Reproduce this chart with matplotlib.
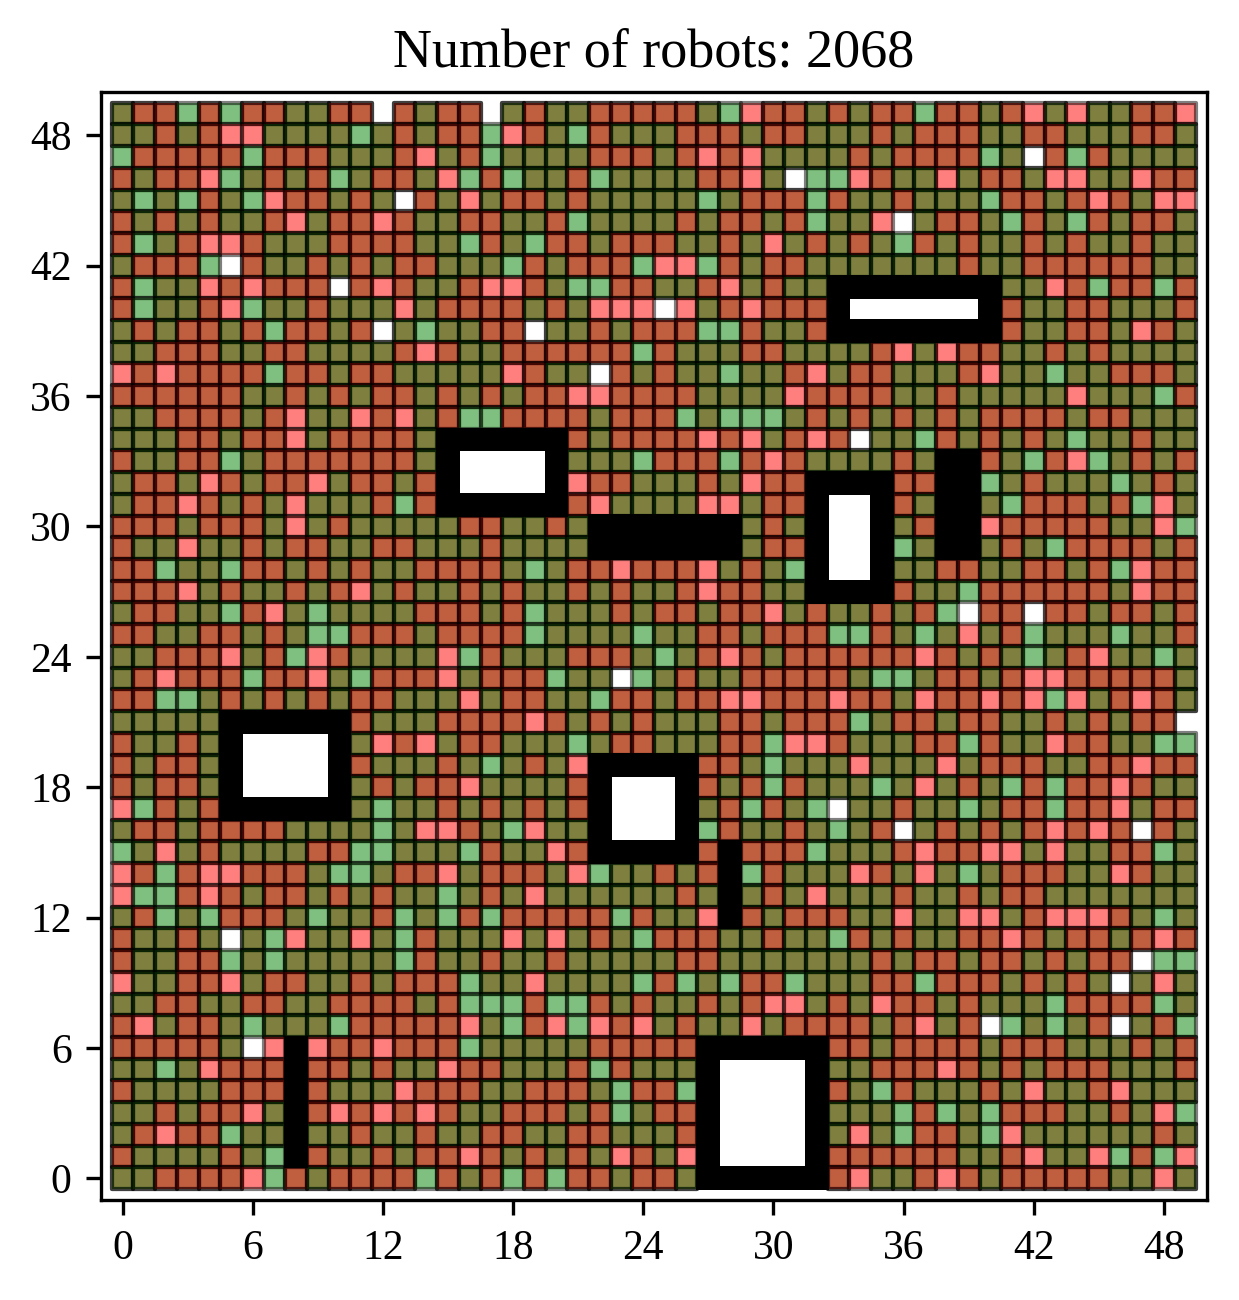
import matplotlib
matplotlib.use("Agg")
import matplotlib.pyplot as plt
from matplotlib.patches import Rectangle
from matplotlib.collections import PatchCollection

# ---------------- data ----------------
title_text = "Number of robots: 2068"
tick_values = [0, 6, 12, 18, 24, 30, 36, 42, 48]
n_cols = 50
n_rows = 50

# grid rows from top (y = 49) to bottom (y = 0)
# G = olive (red under green), R = brick (green under red), r = red only,
# g = green only, . = empty, # = obstacle
grid_rows = [
    "GRRgRgRRGGRR.RGRR" ".GRGGRRRRRGgrRRGR" "GRRgRRGRrGrGGRRr",
    "GGRGRrrGGGGgGRGRR" "grRGgRGGGRRRGRRGG" "GRGRRRGGRRGGGRRG",
    "gRRRRRgRRRGGGRrGR" "gGGGGRRRGRrRrGGGG" "RGRRRRgG.RgRGGGG",
    "RGRRrgGRGRgGRRGrg" "RgGGRgGGGGRRrG.gg" "rRGGrGRRGrrGGrRR",
    "GgGgRGgrRRGRG.RGr" "GRRGRGGGGGgGRRRgR" "GGRGGGgRRGRrRGrr",
    "RGRGRGGRrGRRrRGGR" "RGGRgGGGGRGRRGRgG" "Gr.GRRGgRGgRGRRG",
    "RgGRrrRGGGRRRRGGg" "RGgRRGRRRGGRGrGRG" "RGgRGRGGRGRGGRGG",
    "GRRRg.RGGRGRGRRGG" "GgRGRRRgrrgRGRRGG" "GGGGGRGGRRRRRRGG",
    "RgGGrRrRRR.RrRGGR" "rrRGggRRGGRrGRGG#" "#######GGrRgRRgR",
    "RgGGRrgGGRGGGrGRR" "RRGRGrrr.rGRrRRR#" "#######RGGRRGGGR",
    "GRGRRGRgRRGR.GgGG" "RR.GGRGRRRggRGGR#" "#######RGGRRGrRG",
    "GGRRRGGRRGGGGRrRG" "GRRRRRRgRGGGRRGGG" "GRrGrRRGGRGRGGGG",
    "rRrRRRRgRRGRRGGGG" "GrRGG.RGRGGgGGRrG" "RRGGGRrGGgGGRRRG",
    "RRRRRRGGRGRGRRGRG" "RGRRrrRRRRGGGGrRR" "RRGGRGGGGGrGGGgR",
    "GGRRRRGRrGGrRrGRg" "gRRRRGRRRgGgggGRG" "RGRGRGRRRRGRRGGG",
    "GGGRRGRRrGRRRRG##" "####RGRRRRrRrGRrR" ".GGgRGRGRGgGGRGG",
    "RGGRRgGRRRRRRRG##" "####GGGgRRRgRrRGG" "GGRG##RGgRrgGRGR",
    "GRRGrRGRRrGRRGR##" "####rRRGGGRGrRR##" "##RR##gGRGGGgGRG",
    "GRRrRGRGrGGGRgR##" "####RrGGGGrrGRR##" "##RG##GgRRRGRgrG",
    "RRRGRRRGrGRGGGGGR" "RGGRG#######GRG##" "##GR##rRRRRRGGrg",
    "RGGrGGRGRRGGRRGGG" "RGGGG#######GRR##" "##gG##GRGgRRRRGR",
    "RRgGGgRRGRGRGGRRR" "RGgGRRrRRRrGRGg##" "##GGRRGGRRGRgrRR",
    "RRRrGRGGRGRrGRGGR" "GRGGRGRGGRrRRGG##" "##RGGgRRRRRRGrRR",
    "GRRGGgRrGgGGGGRRR" "GRgGGGRGRRGRRrGRG" "GRGRg.RR.RRGRRGR",
    "RRGGRRGRGggRRRGRR" "RRgGGGGgGGRRGRRRg" "gRGgGrGRgGGGgGGR",
    "GGRRRrGRgrRGGGGrg" "RGGGRRRGgGRrRGRRR" "RRRrRGRGgGRrGGgG",
    "GRrRRRgRRrGgRRRrG" "RRRgGG.gGRGGRRRRR" "GggGRRGRrrRRRRRG",
    "RRggGRGRGRGRRGGGr" "GRRGGgRRGRRrrRRRr" "RRGrRRrRrgrGRrRG",
    "GGGGG######RGGGRR" "RRrRGRGRGGGRRGRRR" "gGRRGRRGGRGRGRR.",
    "RGGRG######GrRrGR" "RGGGgGRRGGGRRgrrR" "GGGRRgRGGrRRGGgg",
    "RGRRG######RGGGRG" "gGRGr#####RRGgGGG" "rGGGrGRRRGGRRrRR",
    "RGRRG######GRGRRr" "GGGGR#####RGRgRGG" "GgGrGRGgRgRRrRGG",
    "rgRGR######GgGGRG" "RGRGR#####GRgRGg." "GGRGGgGRRgRRrGRR",
    "GRRGRRRRGGGGgGrrR" "GgrGG#####gRGGRGg" "GR.GRGRGRrRrR.RG",
    "gGrGRGGGGRRggGGGg" "RGGrR#####R#RRRgG" "GGRrRRrrGrGGRRgG",
    "rRgRrrRRRGggGRRrG" "RRRGrgGGRGR#gRGGG" "rRGrGgGRRRGGrRGG",
    "rggRrRGRRGRGRGGgG" "RGrGGGGGGRG#GRGrG" "GGRGGRGRRGGGGGGG",
    "GRgGgRRRGgGGRgGgR" "gRRRRRgRGGr#RGRRR" "GGrGGrrGRrrrRGgG",
    "RGGRG.GgrGGrGgRGG" "GrGrGRGgRRRGGRGGg" "RGRGGRRrRGRRGRrR",
    "RGGRRgGgGGGGGgRGG" "RGGRGGGGGRRGGGGGG" "GRGRRGRRGRGRR.gg",
    "rGGRRrGRRGGRGRRRg" "GGrGGGGgRgGgRRgGG" "GRRgRRRGRGRG.GrG",
    "GGRRGGRRGGRRRRGRg" "ggRggRGRGGRGRrrGR" "GrRRGRGGGgRRRRgG",
    "RrGRRGgGGGgRRRRRr" "GgRrgrRrGRGGrGRRR" "RGRrGR.gGgGR.GRg",
    "RRRRRG.r#rRRrRRRg" "GGGGGRRRRR######R" "RGRRRRGRRRGGGRGR",
    "GGgGrRRR#RRGRGGrR" "RGGGRgRGGG######G" "GRRRrRGRGRRRGGGR",
    "RGGGGRRR#RGGGrRRR" "GGRRRGgRRg######R" "GgRGGGRGrGGRrGGG",
    "GGRGRRrG#RrRrRrRG" "GRRRGRgGRR######G" "GGgRgGgRRRGGRGrg",
    "GRrRRgGG#GGRGGRGG" "RRGGRRGGGR######G" "rGgRRGgrGGGGGGRG",
    "RGGGGRGg#RGGRGRRr" "RGRGRGrRGr######R" "RRRRRGGRrGGrgRgr",
    "GGRRRRrgRGRRRRgRG" "RgRgRRGRRG######R" "rGGRrRGRRRRRGGrG",
]

# obstacles as outline rectangles (x0, y0, x1, y1)
obstacles = [
    (15, 31, 20, 34),
    (33, 39, 40, 41),
    (22, 29, 28, 30),
    (32, 27, 35, 32),
    (38, 29, 39, 33),
    (5, 17, 10, 21),
    (22, 15, 26, 19),
    (28, 12, 28, 15),
    (8, 1, 8, 6),
    (27, 0, 32, 6),
]

RED = (1.0, 0.0, 0.0)
GREEN = (0.0, 0.5, 0.0)
layer_map = {
    "r": (None, RED),
    "g": (None, GREEN),
    "R": (GREEN, RED),
    "G": (RED, GREEN),
}

# ---------------- plot ----------------
plt.rcParams["font.family"] = ["Liberation Serif", "DejaVu Serif"]

fig = plt.figure(figsize=(1239 / 300, 1300 / 300), dpi=300)
ax = fig.add_axes([0.08144, 0.07692, 0.89298, 0.85246])

bottom_patches, bottom_colors = [], []
top_patches, top_colors = [], []
for i, row in enumerate(grid_rows):
    row = row[:n_cols].ljust(n_cols, ".")
    y = n_rows - 1 - i
    for x, ch in enumerate(row):
        if ch not in layer_map:
            continue
        low, high = layer_map[ch]
        if low is not None:
            bottom_patches.append(Rectangle((x - 0.5, y - 0.5), 1, 1))
            bottom_colors.append(low)
        top_patches.append(Rectangle((x - 0.5, y - 0.5), 1, 1))
        top_colors.append(high)

for patches, colors, z in ((bottom_patches, bottom_colors, 1), (top_patches, top_colors, 2)):
    pc = PatchCollection(patches, facecolors=[c + (0.5,) for c in colors],
                         edgecolors=[(0, 0, 0, 0.5)] * len(patches),
                         linewidths=1.0, zorder=z)
    ax.add_collection(pc)

h = 0.55
for (x0, y0, x1, y1) in obstacles:
    ax.add_patch(Rectangle((x0 - h, y0 - h), (x1 - x0) + 2 * h, (y1 - y0) + 2 * h,
                           facecolor="black", edgecolor="none", zorder=3))
    if (x1 - x0) > 2 * h and (y1 - y0) > 2 * h:
        ax.add_patch(Rectangle((x0 + h, y0 + h), (x1 - x0) - 2 * h, (y1 - y0) - 2 * h,
                               facecolor="white", edgecolor="none", zorder=4))

ax.set_xlim(-1, 50)
ax.set_ylim(-1, 50)
ax.set_xticks(tick_values)
ax.set_yticks(tick_values)
ax.tick_params(labelsize=10)
ax.set_title(title_text, fontsize=13)

fig.savefig("out.png", dpi=300)
